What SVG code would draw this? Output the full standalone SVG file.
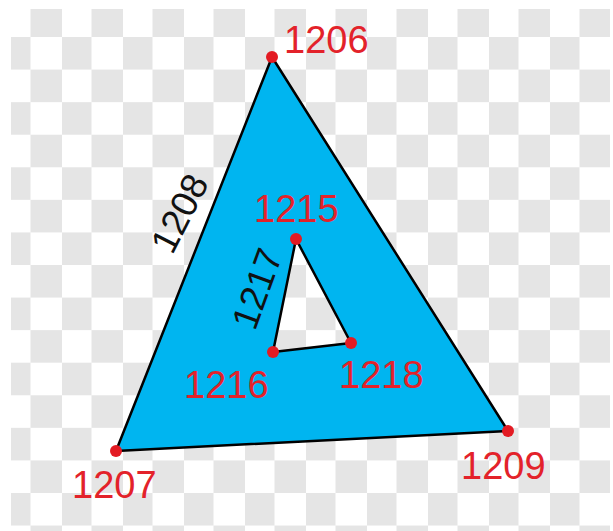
<svg xmlns="http://www.w3.org/2000/svg" width="613" height="531" viewBox="0 0 613 531">
<defs>
<pattern id="chk" patternUnits="userSpaceOnUse" x="0" y="4.43" width="61" height="65.14">
<rect x="0" y="0" width="61" height="65.14" fill="#ffffff"/>
<rect x="30.5" y="0" width="30.5" height="32.57" fill="#e5e5e5"/>
<rect x="0" y="32.57" width="30.5" height="32.57" fill="#e5e5e5"/>
</pattern>
<style>
.shape{fill:#00b5f0;stroke:#000;stroke-width:2.5;stroke-linejoin:round;fill-rule:evenodd}
.edge{fill:none;stroke:#000;stroke-width:2.5}
.pt{fill:#e31b23}
.red{font-family:"Liberation Sans",Arial,sans-serif;font-size:38px;fill:#e3222a}
.blk{font-family:"Liberation Sans",Arial,sans-serif;font-size:37px;fill:#111}
</style>
</defs>
<rect width="613" height="531" fill="#ffffff"/>
<rect x="11" y="9" width="599" height="522" fill="url(#chk)"/>
<g id="connectors">
<path class="shape" d="M272,57 L116,451 L508,431 Z M296,239 L273,352 L351,343 Z"/>
</g>
<g id="n1208"><text class="blk" text-anchor="middle" transform="translate(191,219) rotate(-63)">1208</text></g>
<g id="n1217"><text class="blk" text-anchor="middle" transform="translate(269,293) rotate(-70)">1217</text></g>
<g id="n1206"><circle class="pt" cx="272" cy="57" r="6"/><text class="red" x="284" y="53">1206</text></g>
<g id="n1207"><circle class="pt" cx="116" cy="451" r="6"/><text class="red" x="72" y="498">1207</text></g>
<g id="n1209"><circle class="pt" cx="508" cy="431" r="6"/><text class="red" x="461" y="479">1209</text></g>
<g id="n1215"><circle class="pt" cx="296" cy="239" r="6"/><text class="red" x="254" y="222">1215</text></g>
<g id="n1216"><circle class="pt" cx="273" cy="352" r="6"/><text class="red" x="184" y="398">1216</text></g>
<g id="n1218"><circle class="pt" cx="351" cy="343" r="6"/><text class="red" x="339" y="388">1218</text></g>
</svg>
